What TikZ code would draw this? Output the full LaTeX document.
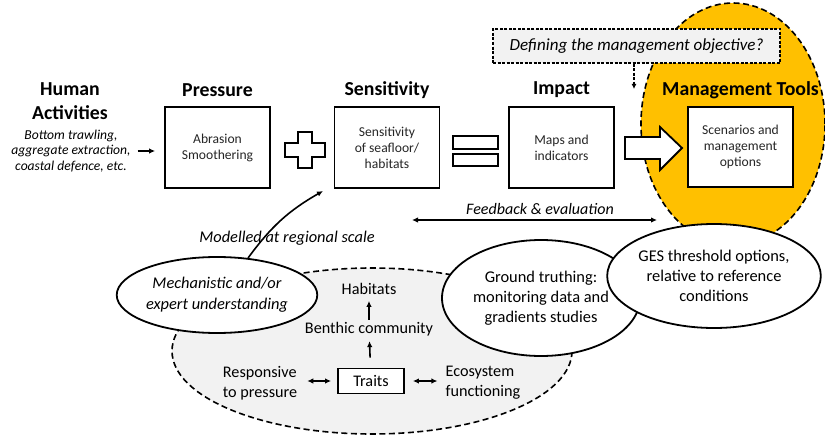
\documentclass[tikz,border=0pt]{standalone}
\usepackage{fontspec}
\setmainfont{Carlito}
\usetikzlibrary{arrows.meta,positioning,calc,shapes.geometric}
\definecolor{mgold}{HTML}{FFC000}
\definecolor{pale}{HTML}{F2F2F2}

\begin{document}
\begin{tikzpicture}[x=1pt,y=-1pt,
      ar/.style={-{Latex[length=6pt,width=5.5pt]},line width=1.6pt},
      dar/.style={{Latex[length=6pt,width=5.5pt]}-{Latex[length=6pt,width=5.5pt]},
                  line width=1.6pt},
      hd/.style={font=\fontsize{19.8}{24}\selectfont\bfseries,align=center},
      bx/.style={draw,line width=1.8pt,fill=white,minimum width=105pt,
                 minimum height=81pt,align=center,text=black!85,
                 font=\fontsize{13.6}{16}\selectfont},
      el/.style={ellipse,draw,line width=1.8pt,fill=white,inner sep=0pt,
                 align=center,font=\fontsize{16.4}{20}\selectfont},
      gt/.style={font=\fontsize{16.2}{20}\selectfont,inner sep=2pt},
      dsh/.style={dash pattern=on 6pt off 3.5pt,line width=1.6pt}]
    \useasboundingbox (0,0) rectangle (825,436);

    % ================= management zone =================
    \draw[dsh,fill=mgold] (733,124) ellipse [x radius=92pt,y radius=121pt];
    \node[draw,dash pattern=on 3pt off 1.5pt,line width=1.1pt,fill=pale,
          minimum width=287pt,minimum height=34pt,
          font=\fontsize{17}{20}\selectfont\itshape] (defn) at (636.5,46)
      {Defining the management objective?};
    \coordinate (deftip) at (634,89);
    \draw[-{Latex[length=5pt,width=5pt]},dash pattern=on 3pt off 1.5pt,
          line width=1.2pt] (defn.south -| deftip) -- (deftip);

    % ================= top row =================
    \node[hd] (acth) at (70,101) {Human\\Activities};
    \node[align=center,inner sep=0pt,font=\fontsize{13.6}{15.5}\selectfont\itshape]
      (acts) at (71,151)
      {Bottom trawling,\\aggregate extraction,\\coastal defence, etc.};

    \node[bx] (press) at (217.5,147.5) {Abrasion\\Smoothering};
    \node[hd] (pressh) at (217.5,90) {Pressure};
    \node[bx] (sens) at (387,147.5) {Sensitivity\\of seafloor/\\habitats};
    \node[hd] (sensh) at (387,90) {Sensitivity};
    \node[bx] (imp) at (561.5,147.5) {Maps and\\indicators};
    \node[hd] (imph) at (561.5,90) {Impact};
    \node[bx,minimum height=80pt] (mgmt) at (740.5,147) {Scenarios and\\management\\options};
    \node[hd] (mgmth) at (740.5,90) {Management Tools};

    \draw[ar,shorten <=7pt,shorten >=9pt] (acts.east) -- (acts.east -| press.west);

    % plus, equals, block arrow
    \draw[line width=1.8pt,fill=white]
      (298,132) -- (312,132) -- (312,143) -- (325,143) -- (325,157) -- (312,157)
      -- (312,168) -- (298,168) -- (298,157) -- (285,157) -- (285,143)
      -- (298,143) -- cycle;
    \draw[line width=1.8pt,fill=white] (453,136) rectangle (498,149);
    \draw[line width=1.8pt,fill=white] (453,154) rectangle (498,166);
    \draw[line width=1.8pt,fill=white]
      (625,137) -- (660,137) -- (660,127) -- (682,148) -- (660,170)
      -- (660,159) -- (625,159) -- cycle;

    % ================= feedback =================
    \coordinate (fbl) at (412,220);
    \coordinate (fbr) at (657,220);
    \draw[dar] (fbl) -- (fbr);
    \node[font=\fontsize{16}{20}\selectfont\itshape] (fbk) at (540,209)
      {Feedback \& evaluation};

    % ================= benthic ellipse =================
    \draw[dsh,fill=pale] (372,351) ellipse [x radius=200pt,y radius=83pt];

    \node[gt] (hab) at (369,289) {Habitats};
    \node[gt] (benth) at (369,329) {Benthic community};
    \node[draw,line width=1.8pt,fill=white,minimum width=66pt,minimum height=25pt,
          font=\fontsize{16.2}{20}\selectfont] (trt) at (371,381) {Traits};
    \node[gt,align=left] (resp) at (260,383) {Responsive\\to pressure};
    \node[gt,align=left] (eco) at (483,383) {Ecosystem\\functioning};

    \draw[ar,shorten >=4pt] (benth) -- (hab);
    \draw[ar,shorten <=10pt,shorten >=3pt] (trt) -- (benth);
    \draw[dar,shorten <=6pt,shorten >=8pt] (trt.west) -- (trt.west -| resp.east);
    \draw[dar,shorten <=8pt,shorten >=6pt] (trt.east) -- (trt.east -| eco.west);

    % ================= outer ellipses =================
    \node[el,minimum width=180pt,minimum height=76pt,
          font=\fontsize{16.4}{21}\selectfont\itshape] (mech) at (217,295)
      {Mechanistic and/or\\expert understanding};
    \node[el,minimum width=198pt,minimum height=116pt] (grnd) at (541,298)
      {Ground truthing:\\monitoring data and\\gradients studies};
    \node[el,minimum width=202pt,minimum height=104pt] (ges) at (714,276)
      {GES threshold options,\\relative to reference\\conditions};

    \coordinate (modtip) at (323,191);
    \draw[ar] (mech.50) to[bend left=12] (modtip);
    \node[font=\fontsize{16.4}{20}\selectfont\itshape] (modl) at (287,238)
      {Modelled at regional scale};
  \end{tikzpicture}
\end{document}
